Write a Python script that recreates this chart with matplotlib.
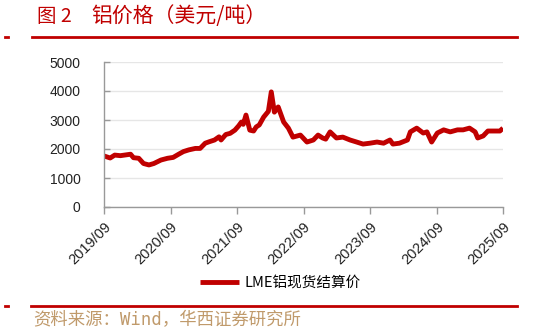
import matplotlib
matplotlib.use("Agg")
import matplotlib.pyplot as plt
import matplotlib.transforms as mtrans
import pandas as pd

plt.rcParams['font.family'] = ['Noto Sans CJK SC', 'DejaVu Sans']

dates = ["2019-09-01", "2019-10-05", "2019-10-30", "2019-11-30", "2020-01-25", "2020-02-10",
         "2020-03-10", "2020-04-05", "2020-05-05", "2020-06-01", "2020-07-10", "2020-08-15",
         "2020-09-15", "2020-10-15", "2020-11-10", "2020-12-10", "2021-01-15", "2021-02-10",
         "2021-03-10", "2021-04-01", "2021-04-30", "2021-05-25", "2021-06-05", "2021-07-01",
         "2021-07-25", "2021-08-20", "2021-09-10", "2021-09-25", "2021-10-05", "2021-10-20",
         "2021-11-10", "2021-12-01", "2021-12-15", "2022-01-01", "2022-01-25", "2022-02-20",
         "2022-03-08", "2022-03-25", "2022-04-15", "2022-05-15", "2022-06-10", "2022-07-05",
         "2022-08-15", "2022-09-20", "2022-10-25", "2022-11-20", "2022-12-15", "2023-01-01",
         "2023-01-25", "2023-03-01", "2023-04-05", "2023-05-15", "2023-06-20", "2023-07-25",
         "2023-09-01", "2023-10-10", "2023-11-15", "2023-12-20", "2024-01-05", "2024-02-10",
         "2024-03-25", "2024-04-10", "2024-05-15", "2024-06-20", "2024-07-10", "2024-08-05",
         "2024-09-05", "2024-10-10", "2024-11-15", "2024-12-25", "2025-01-25", "2025-03-01",
         "2025-04-01", "2025-04-15", "2025-05-15", "2025-06-10", "2025-08-15", "2025-09-01"]
prices = [1760, 1690, 1790, 1770, 1820, 1700,
          1680, 1500, 1450, 1500, 1620, 1680,
          1710, 1820, 1910, 1970, 2020, 2020,
          2200, 2250, 2310, 2420, 2310, 2500,
          2540, 2650, 2800, 2930, 2850, 3170,
          2650, 2620, 2760, 2830, 3100, 3300,
          3970, 3270, 3450, 2930, 2720, 2410,
          2480, 2240, 2310, 2480, 2380, 2340,
          2590, 2380, 2410, 2310, 2240, 2170,
          2200, 2240, 2200, 2310, 2170, 2200,
          2310, 2590, 2720, 2550, 2590, 2240,
          2550, 2660, 2590, 2660, 2660, 2720,
          2590, 2380, 2450, 2620, 2620, 2720]
xtick_labels = ["2019/09", "2020/09", "2021/09", "2022/09", "2023/09", "2024/09", "2025/09"]
yticks = [0, 1000, 2000, 3000, 4000, 5000]
series_name = "LME铝现货结算价"
title_fig = "图 2"
title_text = "铝价格（美元/吨）"
source = "资料来源：Wind，华西证券研究所"

red = "#c00000"
fig = plt.figure(figsize=(5.39, 3.32), dpi=100)
ax = fig.add_axes([104/539, 1-207/332, 399/539, 145/332])
x = pd.to_datetime(dates)
ax.plot(x, prices, color=red, lw=3.5, label=series_name, solid_joinstyle='round',
        solid_capstyle='butt')

tick_dates = pd.to_datetime([s.replace("/", "-") + "-01" for s in xtick_labels])
ax.set_xlim(tick_dates[0], tick_dates[-1])
ax.set_xticks(tick_dates)
ax.set_xticklabels(xtick_labels, rotation=45, ha='right', va='top', rotation_mode='anchor',
                   fontsize=10.5, family='Liberation Sans')
off = mtrans.ScaledTranslation(4/100, 0, fig.dpi_scale_trans)
for lab in ax.get_xticklabels():
    lab.set_transform(lab.get_transform() + off)
ax.set_ylim(0, 5000)
ax.set_yticks(yticks)
ax.set_yticklabels([str(v) for v in yticks], fontsize=10, family='Liberation Sans')
ax.grid(axis='y', color='#e6e6e6', lw=1)
ax.set_axisbelow(True)
for s in ['top', 'right']:
    ax.spines[s].set_visible(False)
for s in ['left', 'bottom']:
    ax.spines[s].set_color('#999999')
    ax.spines[s].set_linewidth(1)
ax.tick_params(axis='both', colors='#999999', labelcolor='#222222', width=1)
ax.tick_params(axis='y', direction='in', length=4, pad=17)
ax.tick_params(axis='x', direction='out', length=5, pad=4)

ax.legend(loc='center', bbox_to_anchor=(0.5 - (23/399), -0.525), frameon=False, fontsize=10.5,
          handlelength=2.7, handletextpad=0.4)

fig.text(37/539, 1-16/332, title_fig, color=red, fontsize=14, va='center', ha='left',
         fontweight='light')
fig.text(91/539, 1-16/332, title_text, color=red, fontsize=15, va='center', ha='left',
         fontweight='light')
fig.add_artist(plt.Line2D([32/539, 517/539], [1-37/332, 1-37/332], color=red, lw=2))
fig.add_artist(plt.Line2D([5/539, 8/539], [1-37/332, 1-37/332], color=red, lw=2))
fig.add_artist(plt.Line2D([31/539, 517/539], [1-306/332, 1-306/332], color=red, lw=2))
fig.add_artist(plt.Line2D([5/539, 8/539], [1-306/332, 1-306/332], color=red, lw=2))
fig.text(33/539, 1-320/332, source, color='#c09a6b', fontsize=12.5, va='center', ha='left',
         family=['DejaVu Sans Mono', 'Noto Sans CJK SC'])

fig.savefig("out.png", dpi=100)
